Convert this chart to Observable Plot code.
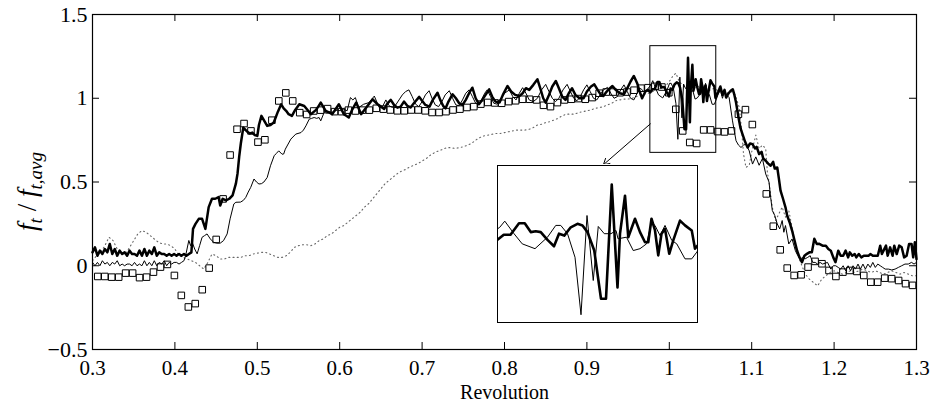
<!DOCTYPE html>
<html><head><meta charset="utf-8">
<script src="https://cdn.jsdelivr.net/npm/d3@7"></script>
<script src="https://cdn.jsdelivr.net/npm/@observablehq/plot@0.6"></script>
<style>
body{margin:0;background:#fff;}
#wrap{position:relative;width:932px;height:401px;}
#inset{position:absolute;left:496px;top:164px;}
</style></head><body><div id="wrap"><div id="main"></div><div id="inset"></div></div>
<script>
// ---- data (revolution, f_t / f_t,avg) ----
const xTicks = [0.3,0.4,0.5,0.6,0.7,0.8,0.9,1.0,1.1,1.2,1.3];
const xTickLabels = ["0.3","0.4","0.5","0.6","0.7","0.8","0.9","1","1.1","1.2","1.3"];
const yTicks = [-0.5,0,0.5,1,1.5];
const yTickLabels = ["\u22120.5","0","0.5","1","1.5"];
const xDomain = [0.3,1.3];
const yDomain = [-0.5,1.5];
const zoomX = [0.977,1.057];
const zoomY = [0.674,1.311];
const insetY = [0.726,1.313];
const arrowRev = [0.977,0.920];
const arrowVal = [0.847,0.603];

const thick = [
[0.300,0.08],[0.303,0.11],[0.306,0.06],[0.309,0.09],[0.312,0.07],[0.315,0.10],[0.318,0.08],[0.321,0.13],[0.324,0.07],[0.327,0.10],
[0.330,0.06],[0.333,0.09],[0.336,0.07],[0.339,0.08],[0.342,0.06],[0.345,0.09],[0.348,0.07],[0.351,0.07],[0.354,0.06],[0.357,0.09],
[0.360,0.06],[0.363,0.10],[0.366,0.06],[0.369,0.09],[0.372,0.07],[0.375,0.11],[0.378,0.06],[0.381,0.08],[0.384,0.07],[0.387,0.07],
[0.390,0.06],[0.393,0.07],[0.396,0.06],[0.399,0.07],[0.402,0.06],[0.405,0.07],[0.408,0.06],[0.411,0.07],[0.414,0.06],[0.417,0.07],
[0.420,0.08],[0.422,0.22],[0.425,0.25],[0.429,0.28],[0.433,0.28],[0.437,0.22],[0.441,0.35],[0.445,0.40],[0.449,0.40],[0.453,0.41],
[0.455,0.36],[0.458,0.40],[0.462,0.39],[0.466,0.40],[0.470,0.42],[0.474,0.49],[0.476,0.55],[0.478,0.65],[0.480,0.73],[0.483,0.825],
[0.486,0.81],[0.488,0.80],[0.491,0.79],[0.494,0.795],[0.497,0.78],[0.500,0.775],[0.502,0.84],[0.505,0.895],[0.509,0.86],[0.512,0.835],
[0.516,0.84],[0.520,0.855],[0.525,0.92],[0.529,0.964],[0.532,0.94],[0.535,0.925],[0.538,0.905],[0.542,0.895],[0.546,0.93],[0.551,0.964],
[0.557,0.954],[0.561,0.93],[0.565,0.905],[0.571,0.929],[0.574,0.95],[0.577,0.974],[0.583,0.925],[0.587,0.915],[0.591,0.905],[0.595,0.935],
[0.599,0.964],[0.605,0.905],[0.608,0.895],[0.611,0.885],[0.615,0.93],[0.620,0.974],[0.626,0.905],[0.632,0.944],[0.640,0.994],[0.646,0.964],
[0.650,0.95],[0.654,0.936],[0.658,0.97],[0.662,0.99],[0.666,0.96],[0.670,0.944],[0.674,0.95],[0.678,0.98],[0.682,0.955],[0.686,0.945],
[0.690,0.97],[0.6965,1.008],[0.700,0.985],[0.704,0.96],[0.709,0.95],[0.713,0.99],[0.7187,1.033],[0.722,0.99],[0.7255,0.955],[0.7285,0.94],
[0.732,0.98],[0.737,1.024],[0.741,1.0],[0.745,0.97],[0.749,0.96],[0.753,0.99],[0.757,1.03],[0.761,1.063],[0.765,1.0],[0.769,0.965],
[0.773,0.99],[0.777,1.02],[0.7814,1.053],[0.785,1.01],[0.789,0.98],[0.794,0.975],[0.798,1.02],[0.8036,1.073],[0.808,1.04],[0.813,1.02],
[0.818,1.013],[0.822,1.03],[0.826,1.06],[0.830,1.05],[0.835,1.08],[0.840,1.113],[0.844,1.05],[0.847,1.0],[0.850,0.974],[0.854,1.02],
[0.858,1.07],[0.8623,1.103],[0.866,1.06],[0.870,1.01],[0.874,0.99],[0.878,1.03],[0.882,1.06],[0.886,1.02],[0.891,1.0],[0.896,1.0],
[0.900,1.04],[0.905,1.07],[0.909,1.083],[0.913,1.05],[0.917,1.02],[0.920,1.013],[0.924,1.04],[0.928,1.06],[0.931,1.073],[0.935,1.05],
[0.940,1.03],[0.945,1.024],[0.949,1.06],[0.953,1.1],[0.957,1.133],[0.961,1.09],[0.964,1.04],[0.967,1.0],[0.971,1.04],[0.974,1.05],
[0.977,1.035],[0.9795,1.054],[0.9822,1.054],[0.9856,1.097],[0.9879,1.097],[0.9903,1.064],[0.9923,1.067],[0.9943,1.064],[0.997,1.035],[0.9996,1.011],
[1.0016,1.058],[1.0037,1.051],[1.0063,1.082],[1.009,1.095],[1.011,1.089],[1.013,1.064],[1.0157,0.995],[1.0184,0.815],[1.0204,0.815],[1.0227,1.242],
[1.025,0.857],[1.026,1.058],[1.028,1.2],[1.0293,1.045],[1.032,1.114],[1.034,1.064],[1.036,1.026],[1.0373,1.026],[1.0386,1.114],[1.040,1.07],
[1.0413,0.977],[1.0426,1.058],[1.044,1.076],[1.0457,0.983],[1.0473,1.033],[1.050,1.107],[1.052,1.089],[1.0547,1.07],[1.056,1.002],[1.0595,1.04],
[1.062,1.07],[1.0645,1.02],[1.067,1.05],[1.069,1.004],[1.072,1.03],[1.0745,1.045],[1.077,1.054],[1.079,1.02],[1.081,0.974],[1.084,0.885],
[1.0865,0.82],[1.0888,0.786],[1.092,0.74],[1.095,0.706],[1.098,0.73],[1.101,0.726],[1.104,0.70],[1.106,0.71],[1.109,0.667],[1.112,0.68],
[1.114,0.64],[1.117,0.627],[1.120,0.61],[1.123,0.597],[1.126,0.62],[1.128,0.58],[1.131,0.587],[1.133,0.52],[1.135,0.448],[1.138,0.40],
[1.141,0.349],[1.143,0.30],[1.146,0.26],[1.149,0.21],[1.152,0.15],[1.155,0.091],[1.158,0.05],[1.161,0.021],[1.164,0.06],[1.167,0.071],
[1.170,0.08],[1.173,0.08],[1.176,0.161],[1.179,0.13],[1.182,0.131],[1.186,0.12],[1.190,0.12],[1.193,0.10],[1.196,0.09],[1.199,0.05],
[1.2017,0.021],[1.205,0.09],[1.208,0.06],[1.211,0.06],[1.214,0.09],[1.217,0.05],[1.219,0.08],[1.222,0.06],[1.225,0.07],[1.227,0.05],
[1.230,0.07],[1.233,0.05],[1.236,0.06],[1.239,0.06],[1.242,0.06],[1.244,0.07],[1.247,0.06],[1.250,0.06],[1.253,0.06],[1.256,0.12],
[1.258,0.07],[1.260,0.09],[1.263,0.12],[1.265,0.06],[1.268,0.11],[1.271,0.06],[1.273,0.12],[1.276,0.07],[1.279,0.12],[1.282,0.11],
[1.285,0.05],[1.288,0.06],[1.291,0.13],[1.294,0.13],[1.296,0.05],[1.298,0.14],[1.300,0.04]
];

const thin = [
[0.300,0.02],[0.303,0.0],[0.306,0.02],[0.309,0.0],[0.312,0.03],[0.315,0.01],[0.318,0.02],[0.321,0.0],[0.324,0.02],[0.327,0.01],
[0.330,0.03],[0.333,0.0],[0.336,0.01],[0.339,0.0],[0.342,0.01],[0.345,0.01],[0.348,0.0],[0.351,0.02],[0.354,0.0],[0.357,0.01],
[0.360,0.0],[0.363,0.03],[0.366,0.0],[0.369,0.02],[0.372,0.0],[0.375,0.03],[0.378,0.0],[0.381,0.02],[0.384,0.01],[0.387,0.03],
[0.390,0.0],[0.393,0.02],[0.396,0.01],[0.399,0.02],[0.402,0.02],[0.405,0.01],[0.408,0.02],[0.411,0.03],[0.413,0.06],[0.4169,0.151],
[0.419,0.12],[0.421,0.14],[0.424,0.10],[0.427,0.071],[0.430,0.12],[0.433,0.17],[0.436,0.18],[0.439,0.19],[0.443,0.16],[0.447,0.14],
[0.451,0.135],[0.455,0.135],[0.459,0.15],[0.4634,0.19],[0.467,0.28],[0.4715,0.369],[0.474,0.379],[0.4796,0.38],[0.483,0.39],[0.486,0.408],
[0.489,0.44],[0.492,0.468],[0.496,0.518],[0.499,0.50],[0.502,0.488],[0.505,0.49],[0.508,0.50],[0.512,0.527],[0.516,0.597],[0.5205,0.657],
[0.523,0.67],[0.526,0.686],[0.530,0.666],[0.532,0.667],[0.534,0.696],[0.5407,0.756],[0.5467,0.786],[0.553,0.795],[0.556,0.81],[0.559,0.835],
[0.563,0.875],[0.566,0.88],[0.569,0.885],[0.572,0.88],[0.575,0.885],[0.577,0.865],[0.581,0.914],[0.585,0.91],[0.589,0.914],[0.593,0.92],
[0.597,0.93],[0.6005,0.925],[0.6045,0.934],[0.609,0.925],[0.613,1.004],[0.616,0.99],[0.619,1.004],[0.623,0.944],[0.629,0.964],[0.6355,0.974],
[0.642,1.013],[0.648,0.944],[0.652,0.95],[0.656,0.99],[0.660,0.955],[0.664,0.945],[0.668,0.96],[0.672,0.99],[0.676,1.02],[0.680,1.04],
[0.684,1.05],[0.688,1.01],[0.692,0.965],[0.696,0.95],[0.700,0.98],[0.704,1.02],[0.7085,1.045],[0.712,1.0],[0.716,0.96],[0.720,0.95],
[0.724,0.98],[0.728,1.02],[0.733,1.045],[0.737,1.0],[0.741,0.96],[0.745,0.955],[0.749,0.99],[0.753,1.03],[0.757,1.05],[0.761,1.01],
[0.765,0.97],[0.769,0.96],[0.773,1.0],[0.776,1.03],[0.779,1.05],[0.783,1.01],[0.787,0.97],[0.791,0.965],[0.795,0.99],[0.800,1.03],
[0.806,1.05],[0.810,1.01],[0.814,0.99],[0.818,1.03],[0.822,1.063],[0.826,1.03],[0.830,0.99],[0.835,0.98],[0.840,1.0],[0.845,1.05],
[0.850,1.083],[0.854,1.04],[0.858,1.0],[0.862,0.98],[0.866,1.0],[0.871,1.05],[0.876,1.083],[0.880,1.04],[0.884,1.0],[0.888,0.985],
[0.892,1.01],[0.896,1.05],[0.900,1.08],[0.904,1.04],[0.908,1.0],[0.912,0.99],[0.916,1.02],[0.920,1.05],[0.925,1.065],[0.929,1.03],
[0.933,1.0],[0.937,1.01],[0.941,1.05],[0.945,1.08],[0.949,1.04],[0.953,1.0],[0.957,0.99],[0.961,1.03],[0.965,1.06],[0.969,1.04],
[0.973,1.05],[0.9779,1.082],[0.9799,1.105],[0.9836,1.058],[0.9869,1.02],[0.992,1.002],[0.997,1.045],[1.0003,1.089],[1.0023,1.089],[1.005,1.058],
[1.008,0.97],[1.0104,0.755],[1.0128,1.126],[1.0153,0.883],[1.0173,1.085],[1.0197,1.058],[1.0224,1.058],[1.0244,1.07],[1.0252,1.039],[1.0286,1.045],
[1.0313,0.995],[1.034,1.002],[1.0366,1.02],[1.0386,1.1],[1.040,1.089],[1.042,1.051],[1.044,1.089],[1.0467,1.033],[1.0487,1.02],[1.052,0.964],
[1.0547,0.964],[1.0567,0.989],[1.059,1.02],[1.062,1.05],[1.0645,1.0],[1.067,1.04],[1.0695,1.02],[1.0726,1.004],[1.0767,0.865],[1.081,0.746],
[1.084,0.72],[1.087,0.706],[1.090,0.72],[1.093,0.726],[1.097,0.686],[1.101,0.607],[1.105,0.65],[1.109,0.60],[1.113,0.64],[1.117,0.548],
[1.121,0.50],[1.123,0.408],[1.125,0.33],[1.128,0.30],[1.131,0.25],[1.134,0.22],[1.137,0.27],[1.139,0.20],[1.141,0.24],[1.145,0.13],
[1.149,0.16],[1.153,0.09],[1.156,0.06],[1.159,0.04],[1.162,0.05],[1.165,0.042],[1.168,0.05],[1.171,0.06],[1.174,0.02],[1.177,0.02],
[1.180,0.01],[1.183,0.02],[1.186,0.01],[1.189,0.015],[1.192,0.02],[1.196,-0.02],[1.199,0.0],[1.202,0.0],[1.205,-0.01],[1.208,-0.02],
[1.211,0.0],[1.214,-0.03],[1.217,0.0],[1.220,-0.03],[1.223,0.0],[1.226,-0.02],[1.229,0.01],[1.232,-0.02],[1.235,0.01],[1.238,-0.02],
[1.241,0.01],[1.244,-0.01],[1.247,0.02],[1.250,-0.01],[1.253,0.01],[1.256,0.0],[1.259,-0.01],[1.262,-0.02],[1.266,-0.02],[1.270,-0.025],
[1.274,-0.02],[1.278,-0.01],[1.282,0.0],[1.286,0.01],[1.290,0.01],[1.294,0.02],[1.297,0.01],[1.300,0.02]
];

const dotted = [
[0.300,0.03],[0.305,0.06],[0.310,0.08],[0.315,0.12],[0.320,0.17],[0.325,0.15],[0.330,0.10],[0.335,0.08],[0.340,0.07],[0.345,0.11],
[0.350,0.15],[0.355,0.19],[0.360,0.21],[0.365,0.20],[0.370,0.18],[0.375,0.16],[0.380,0.14],[0.385,0.13],[0.390,0.13],[0.395,0.12],
[0.400,0.10],[0.405,0.06],[0.410,0.05],[0.415,0.04],[0.420,0.03],[0.425,0.02],[0.430,0.0],[0.435,-0.02],[0.440,0.02],[0.445,0.07],
[0.450,0.06],[0.455,0.04],[0.460,0.04],[0.465,0.05],[0.470,0.05],[0.475,0.05],[0.480,0.05],[0.485,0.06],[0.490,0.06],[0.495,0.07],
[0.500,0.075],[0.505,0.08],[0.510,0.08],[0.515,0.07],[0.520,0.06],[0.525,0.05],[0.530,0.05],[0.535,0.06],[0.540,0.08],[0.545,0.11],
[0.550,0.12],[0.555,0.125],[0.560,0.125],[0.565,0.12],[0.570,0.13],[0.575,0.15],[0.580,0.16],[0.585,0.18],[0.590,0.19],[0.595,0.21],
[0.600,0.23],[0.605,0.24],[0.610,0.26],[0.615,0.28],[0.620,0.30],[0.625,0.32],[0.630,0.35],[0.635,0.37],[0.640,0.40],[0.645,0.43],
[0.650,0.46],[0.655,0.49],[0.660,0.51],[0.665,0.53],[0.670,0.55],[0.675,0.565],[0.680,0.575],[0.685,0.59],[0.690,0.60],[0.695,0.61],
[0.700,0.625],[0.705,0.64],[0.710,0.66],[0.715,0.675],[0.720,0.686],[0.725,0.695],[0.730,0.705],[0.735,0.705],[0.740,0.70],[0.745,0.705],
[0.750,0.71],[0.755,0.72],[0.760,0.73],[0.765,0.75],[0.770,0.765],[0.775,0.775],[0.780,0.78],[0.785,0.785],[0.790,0.79],[0.795,0.79],
[0.800,0.795],[0.805,0.80],[0.810,0.805],[0.815,0.81],[0.820,0.81],[0.825,0.81],[0.830,0.815],[0.835,0.825],[0.840,0.84],[0.845,0.845],
[0.850,0.855],[0.855,0.86],[0.860,0.87],[0.865,0.88],[0.870,0.895],[0.875,0.905],[0.880,0.905],[0.885,0.905],[0.890,0.915],[0.895,0.92],
[0.900,0.925],[0.905,0.93],[0.910,0.94],[0.915,0.944],[0.920,0.95],[0.925,0.96],[0.930,0.97],[0.935,0.985],[0.940,0.99],[0.945,0.995],
[0.950,0.995],[0.955,1.00],[0.960,1.01],[0.965,1.02],[0.970,1.025],[0.975,1.03],[0.980,1.04],[0.985,1.05],[0.990,1.06],[0.995,1.07],
[1.000,1.10],[1.004,1.13],[1.008,1.15],[1.012,1.10],[1.016,1.08],[1.020,1.06],[1.025,1.05],[1.030,1.06],[1.035,1.07],[1.040,1.05],
[1.045,1.04],[1.050,1.05],[1.055,1.06],[1.060,1.04],[1.065,1.05],[1.070,1.03],[1.075,1.04],[1.080,1.02],[1.085,0.944],[1.088,0.80],
[1.090,0.67],[1.093,0.587],[1.097,0.60],[1.100,0.68],[1.105,0.78],[1.109,0.70],[1.113,0.72],[1.117,0.70],[1.119,0.56],[1.121,0.50],
[1.125,0.349],[1.129,0.27],[1.133,0.31],[1.137,0.35],[1.141,0.29],[1.145,0.33],[1.149,0.23],[1.153,0.11],[1.157,0.05],[1.161,0.0],
[1.165,-0.05],[1.170,-0.08],[1.175,-0.10],[1.180,-0.12],[1.185,-0.08],[1.190,-0.06],[1.195,-0.04],[1.200,-0.03],[1.205,-0.04],[1.210,-0.05],
[1.215,-0.04],[1.220,-0.03],[1.225,-0.04],[1.230,-0.03],[1.235,-0.02],[1.240,-0.03],[1.245,-0.04],[1.250,-0.03],[1.255,-0.04],[1.260,-0.05],
[1.265,-0.04],[1.270,-0.03],[1.275,-0.04],[1.280,-0.05],[1.285,-0.04],[1.290,-0.05],[1.295,-0.06],[1.300,-0.06]
];

const squares = [
[0.3064,-0.064],[0.3149,-0.064],[0.3233,-0.068],[0.3318,-0.068],[0.3402,-0.044],[0.3487,-0.044],[0.3571,-0.071],[0.3656,-0.068],[0.3740,-0.038],[0.3825,-0.008],
[0.3909,0.008],[0.3994,-0.058],[0.4078,-0.177],[0.4163,-0.246],[0.4247,-0.226],[0.4332,-0.143],[0.4416,-0.014],[0.4501,0.157],[0.4585,0.399],[0.4670,0.661],
[0.4754,0.815],[0.4839,0.849],[0.4923,0.805],[0.5008,0.738],[0.5092,0.752],[0.5177,0.869],[0.5261,0.984],[0.5346,1.032],[0.5430,0.984],[0.5515,0.914],
[0.5599,0.903],[0.5684,0.924],[0.5768,0.929],[0.5853,0.938],[0.5937,0.920],[0.6022,0.920],[0.6106,0.929],[0.6191,0.924],[0.6275,0.929],[0.6360,0.929],
[0.6444,0.940],[0.6530,0.935],[0.6614,0.930],[0.6699,0.925],[0.6783,0.925],[0.6868,0.930],[0.6952,0.930],[0.7037,0.925],[0.7121,0.915],[0.7206,0.915],
[0.7290,0.920],[0.7375,0.930],[0.7459,0.935],[0.7544,0.945],[0.7628,0.950],[0.7713,0.965],[0.7797,0.975],[0.7882,0.972],[0.7966,0.970],[0.8051,0.980],
[0.8135,0.985],[0.8220,0.994],[0.8304,0.994],[0.8389,0.990],[0.8473,0.958],[0.8558,0.950],[0.8642,0.974],[0.8727,0.990],[0.8811,0.994],[0.8896,0.998],
[0.8980,0.994],[0.9065,1.004],[0.9149,1.030],[0.9234,1.037],[0.9318,1.037],[0.9403,1.033],[0.9487,1.037],[0.9572,1.048],[0.9656,1.060],[0.9741,1.063],
[0.9825,1.071],[0.9910,1.067],[0.9994,1.033],[1.0079,0.934],[1.0163,0.805],[1.0248,0.736],[1.0332,0.730],[1.0417,0.811],[1.0501,0.811],[1.0586,0.801],
[1.0670,0.799],[1.0755,0.805],[1.0839,0.905],[1.0924,0.932],[1.1008,0.843],[1.1177,0.429],[1.1262,0.236],[1.1346,0.095],[1.1431,-0.014],[1.1515,-0.058],
[1.1600,-0.054],[1.1684,-0.008],[1.1769,0.026],[1.1853,0.012],[1.1938,-0.028],[1.2022,-0.064],[1.2107,-0.038],[1.2191,-0.028],[1.2276,-0.034],[1.2360,-0.058],
[1.2445,-0.098],[1.2529,-0.098],[1.2614,-0.074],[1.2698,-0.077],[1.2783,-0.088],[1.2867,-0.107],[1.2952,-0.117]
];

// ---- layout ----
const W = 932, H = 401, mL = 92, mR = 16, mT = 14, mB = 52;
const innerW = W - mL - mR, innerH = H - mT - mB;
const FONT = "'Liberation Serif','Times New Roman',serif";
const fx = d => xTickLabels[xTicks.indexOf(d)];
const fy = d => yTickLabels[yTicks.indexOf(d)];
const X = d => d[0], Y = d => d[1];

const chart = Plot.plot({
  width: W, height: H,
  marginLeft: mL, marginRight: mR, marginTop: mT, marginBottom: mB,
  style: {fontFamily: FONT, background: "white", color: "black"},
  x: {domain: xDomain, label: null},
  y: {domain: yDomain, label: null},
  marks: [
    Plot.line(dotted, {x: X, y: Y, stroke: "#666", strokeWidth: 1.1, strokeDasharray: "1,3.2"}),
    Plot.line(thin, {x: X, y: Y, stroke: "black", strokeWidth: 1}),
    Plot.line(thick, {x: X, y: Y, stroke: "black", strokeWidth: 2.5}),
    Plot.dot(squares, {x: X, y: Y, symbol: "square", r: 3.7, stroke: "black", strokeWidth: 1, fill: "none"}),
    Plot.rect([0], {x1: () => zoomX[0], x2: () => zoomX[1], y1: () => zoomY[0], y2: () => zoomY[1], fill: "none", stroke: "black", strokeWidth: 1}),
    Plot.arrow([0], {x1: () => arrowRev[0], y1: () => arrowVal[0], x2: () => arrowRev[1], y2: () => arrowVal[1], stroke: "black", strokeWidth: 1, headLength: 10}),
    Plot.tickX(xTicks, {x: d => d, insetTop: innerH - 7, stroke: "black"}),
    Plot.tickX(xTicks, {x: d => d, insetBottom: innerH - 7, stroke: "black"}),
    Plot.tickY(yTicks, {y: d => d, insetRight: innerW - 7, stroke: "black"}),
    Plot.tickY(yTicks, {y: d => d, insetLeft: innerW - 7, stroke: "black"}),
    Plot.axisX(xTicks, {tickSize: 0, tickPadding: 11, tickFormat: fx, fontSize: 21, label: null}),
    Plot.axisY(yTicks, {tickSize: 0, tickPadding: 5, tickFormat: fy, fontSize: 22, label: null}),
    Plot.text(["Revolution"], {frameAnchor: "bottom", lineAnchor: "bottom", dy: 49, fontSize: 20, text: d => d}),
    Plot.frame({stroke: "black", strokeWidth: 1.2})
  ]
});
document.getElementById("main").appendChild(chart);

// y axis label with subscripts
const lab = d3.select(chart).append("text")
  .attr("transform", `translate(36,${mT + innerH / 2 + 10}) rotate(-90)`)
  .attr("text-anchor", "middle")
  .attr("fill", "black")
  .style("font-family", FONT)
  .style("font-size", "27px");
lab.append("tspan").style("font-style", "italic").text("f");
lab.append("tspan").style("font-style", "italic").style("font-size", "19px").attr("dy", 6).text("t");
lab.append("tspan").attr("dy", -6).text(" / ");
lab.append("tspan").style("font-style", "italic").text("f");
lab.append("tspan").style("font-style", "italic").style("font-size", "19px").attr("dy", 6).text("t,avg");

// inset: magnified view of the boxed region
const inZoom = d => d[0] >= zoomX[0] - 0.004 && d[0] <= zoomX[1] + 0.004;
const inset = Plot.plot({
  width: 202, height: 159, margin: 1,
  style: {background: "white"},
  x: {domain: zoomX, axis: null},
  y: {domain: insetY, axis: null},
  marks: [
    Plot.line(thin.filter(inZoom), {x: X, y: Y, stroke: "black", strokeWidth: 1, clip: true}),
    Plot.line(thick.filter(inZoom), {x: X, y: Y, stroke: "black", strokeWidth: 2.6, clip: true}),
    Plot.frame({stroke: "black", strokeWidth: 1})
  ]
});
document.getElementById("inset").appendChild(inset);
</script>
</body></html>
